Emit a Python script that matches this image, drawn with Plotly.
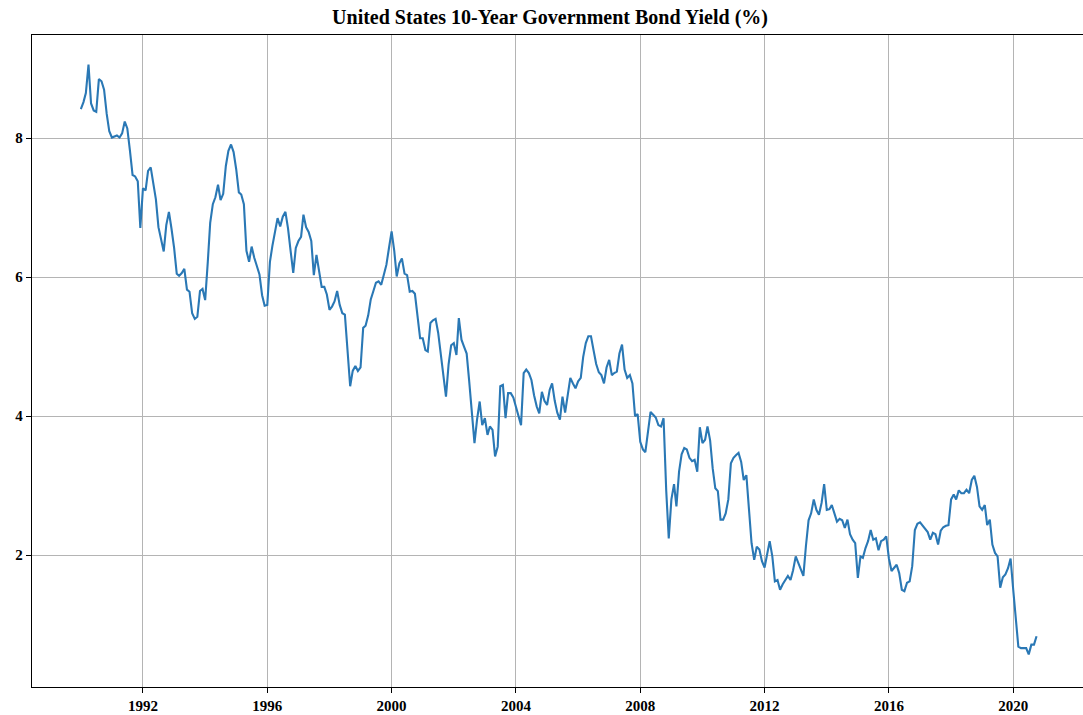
import pandas as pd
import plotly.graph_objects as go

line_color = '#2a78b5'
grid_color = '#b4b4b4'
font_family = 'Liberation Serif, Times New Roman, serif'

start_month = '1990-01-01'

# month-end 10y yield, one row per year from 1990
yield_pct = [
    8.42, 8.52, 8.65, 9.06, 8.50, 8.40, 8.38, 8.85, 8.82, 8.70, 8.35, 8.10,  # 1990
    8.01, 8.03, 8.04, 8.01, 8.07, 8.24, 8.14, 7.82, 7.47, 7.45, 7.38, 6.71,  # 1991
    7.28, 7.25, 7.53, 7.58, 7.33, 7.12, 6.72, 6.55, 6.37, 6.75, 6.94, 6.70,  # 1992
    6.42, 6.05, 6.02, 6.06, 6.12, 5.82, 5.79, 5.48, 5.40, 5.43, 5.80, 5.83,  # 1993
    5.67, 6.22, 6.78, 7.05, 7.15, 7.33, 7.11, 7.20, 7.60, 7.82, 7.91, 7.80,  # 1994
    7.55, 7.22, 7.19, 7.05, 6.38, 6.22, 6.44, 6.28, 6.15, 6.04, 5.74, 5.59,  # 1995
    5.60, 6.22, 6.45, 6.68, 6.85, 6.73, 6.87, 6.94, 6.70, 6.38, 6.06, 6.42,  # 1996
    6.52, 6.58, 6.90, 6.72, 6.65, 6.52, 6.03, 6.32, 6.08, 5.86, 5.86, 5.75,  # 1997
    5.53, 5.58, 5.65, 5.80, 5.60, 5.48, 5.46, 4.95, 4.43, 4.65, 4.72, 4.65,  # 1998
    4.70, 5.27, 5.30, 5.45, 5.68, 5.80, 5.92, 5.94, 5.89, 6.03, 6.18, 6.42,  # 1999
    6.66, 6.38, 6.01, 6.20, 6.27, 6.05, 6.03, 5.79, 5.80, 5.76, 5.45, 5.12,  # 2000
    5.12, 4.95, 4.93, 5.34, 5.38, 5.40, 5.20, 4.90, 4.60, 4.28, 4.75, 5.02,  # 2001
    5.05, 4.88, 5.41, 5.10, 5.00, 4.90, 4.50, 4.10, 3.61, 3.95, 4.21, 3.87,  # 2002
    3.97, 3.73, 3.85, 3.80, 3.42, 3.56, 4.43, 4.45, 3.97, 4.33, 4.33, 4.27,  # 2003
    4.12, 3.98, 3.87, 4.62, 4.67, 4.62, 4.52, 4.30, 4.14, 4.04, 4.35, 4.22,  # 2004
    4.16, 4.38, 4.47, 4.22, 4.05, 3.95, 4.28, 4.05, 4.33, 4.55, 4.47, 4.40,  # 2005
    4.50, 4.55, 4.85, 5.05, 5.15, 5.15, 4.95, 4.75, 4.63, 4.59, 4.47, 4.70,  # 2006
    4.81, 4.59, 4.62, 4.64, 4.90, 5.03, 4.67, 4.55, 4.59, 4.47, 4.00, 4.03,  # 2007
    3.63, 3.52, 3.48, 3.75, 4.06, 4.02, 3.98, 3.87, 3.85, 3.97, 2.93, 2.24,  # 2008
    2.80, 3.02, 2.70, 3.20, 3.45, 3.54, 3.52, 3.40, 3.35, 3.37, 3.20, 3.84,  # 2009
    3.61, 3.66, 3.85, 3.65, 3.25, 2.96, 2.92, 2.51, 2.51, 2.60, 2.80, 3.32,  # 2010
    3.40, 3.44, 3.47, 3.34, 3.08, 3.15, 2.70, 2.17, 1.93, 2.12, 2.08, 1.91,  # 2011
    1.82, 2.05, 2.20, 1.98, 1.62, 1.64, 1.50, 1.58, 1.65, 1.70, 1.64, 1.78,  # 2012
    1.98, 1.88, 1.80, 1.70, 2.13, 2.50, 2.60, 2.80, 2.65, 2.58, 2.75, 3.02,  # 2013
    2.65, 2.66, 2.72, 2.60, 2.48, 2.52, 2.50, 2.39, 2.51, 2.30, 2.22, 2.17,  # 2014
    1.67, 1.98, 1.96, 2.10, 2.20, 2.36, 2.22, 2.24, 2.07, 2.20, 2.22, 2.27,  # 2015
    1.95, 1.77, 1.81, 1.86, 1.74, 1.50, 1.48, 1.60, 1.62, 1.84, 2.36, 2.45,  # 2016
    2.47, 2.42, 2.38, 2.33, 2.22, 2.32, 2.30, 2.15, 2.35, 2.40, 2.42, 2.43,  # 2017
    2.80, 2.87, 2.80, 2.93, 2.89, 2.89, 2.94, 2.89, 3.08, 3.14, 2.98, 2.70,  # 2018
    2.65, 2.72, 2.43, 2.51, 2.15, 2.03, 1.98, 1.53, 1.68, 1.72, 1.81, 1.95,  # 2019
    1.50, 1.10, 0.68, 0.66, 0.66, 0.66, 0.57, 0.71, 0.71, 0.83,              # 2020
]

x_tick_labels = ['1992', '1996', '2000', '2004', '2008', '2012', '2016', '2020']
y_tick_vals = [2, 4, 6, 8]

dates = pd.date_range(start_month, periods=len(yield_pct), freq='MS')

fig = go.Figure(go.Scatter(
    x=dates, y=yield_pct, mode='lines',
    line=dict(color=line_color, width=2.1),
    hoverinfo='x+y',
))

tick_font = dict(family=font_family, size=15, color='black', weight='bold')

fig.update_layout(
    width=1083, height=715,
    margin=dict(l=32, r=0, t=35, b=28),
    paper_bgcolor='white', plot_bgcolor='white',
    showlegend=False,
    font=dict(family=font_family, color='black'),
    title=dict(text='<b>United States 10-Year Government Bond Yield (%)</b>',
               font=dict(family=font_family, size=20, color='black'),
               x=0.4929, xref='paper', xanchor='center',
               y=0.976, yref='container', yanchor='middle'),
)
fig.update_xaxes(
    range=['1988-06-06', '2022-03-31'],
    tickvals=[f'{t}-01-01' for t in x_tick_labels], ticktext=x_tick_labels,
    showgrid=True, gridcolor=grid_color, gridwidth=1.3,
    showline=True, linecolor='black', linewidth=1.3, mirror=True,
    ticks='outside', ticklen=5, tickcolor='black', tickfont=tick_font,
    zeroline=False, automargin=False,
)
fig.update_yaxes(
    range=[0.10, 9.486],
    tickvals=y_tick_vals, ticktext=[str(v) for v in y_tick_vals],
    showgrid=True, gridcolor=grid_color, gridwidth=1.3,
    showline=True, linecolor='black', linewidth=1.3,
    ticks='outside', ticklen=5, tickcolor='black', tickfont=tick_font,
    zeroline=False, automargin=False,
)

# page body has an 8px default margin; drop it so the figure sits at 0,0
fig.write_html('out.html', config={'displayModeBar': False},
               post_script="document.body.style.margin='0';")
